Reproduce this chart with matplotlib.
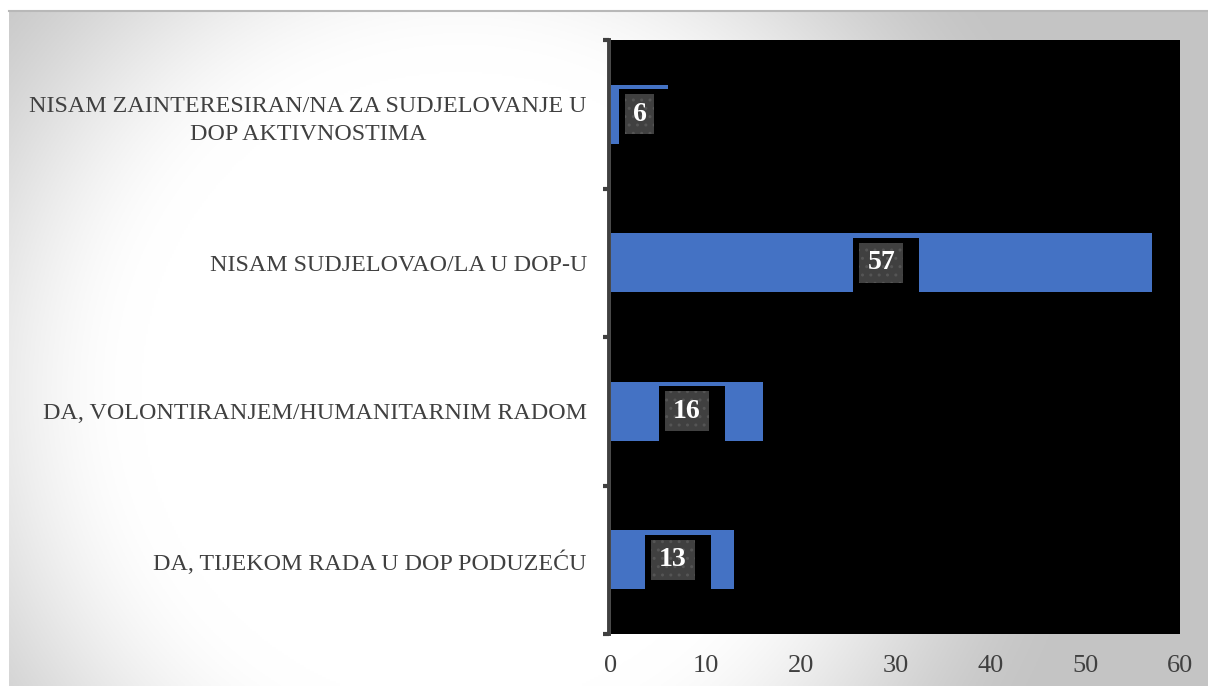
import numpy as np
import matplotlib
matplotlib.use("Agg")
import matplotlib.pyplot as plt
from matplotlib.patches import Rectangle
from matplotlib.transforms import IdentityTransform

categories = [
    "NISAM ZAINTERESIRAN/NA ZA SUDJELOVANJE U\nDOP AKTIVNOSTIMA",
    "NISAM SUDJELOVAO/LA U DOP-U",
    "DA, VOLONTIRANJEM/HUMANITARNIM RADOM",
    "DA, TIJEKOM RADA U DOP PODUZEĆU",
]
values = [6, 57, 16, 13]
xticks = [0, 10, 20, 30, 40, 50, 60]

W, H = 1208, 686
DPI = 100
plt.rcParams['font.family'] = ['Liberation Serif', 'DejaVu Serif']

fig = plt.figure(figsize=(W / DPI, H / DPI), dpi=DPI, facecolor='white')

# gradient background panel
bg = fig.add_axes([9 / W, 0, 1 - 9 / W, 1 - 11 / H])
bg.set_axis_off()
xs = np.linspace(9, W, 600)
ys = np.linspace(11, H, 340)
X, Y = np.meshgrid(xs, ys)
r = np.sqrt((X - 460) ** 2 + (Y - 390) ** 2)
t = np.clip((r - 320) / 340, 0, 1)
t = t * t * (3 - 2 * t)
g = 1.0 - 0.23 * t
img = np.dstack([g, g, g])
bg.imshow(img, aspect='auto', extent=[0, 1, 0, 1], origin='upper', zorder=0)
bg.set_xlim(0, 1)
bg.set_ylim(0, 1)
bg.plot([0, 1], [1, 1], color='#b8b8b8', lw=1.5, transform=bg.transAxes, clip_on=False)

ax = fig.add_axes([611 / W, 1 - 634 / H, (1180 - 611) / W, (634 - 40) / H])
ax.set_facecolor('black')
for s in ['top', 'right', 'bottom']:
    ax.spines[s].set_visible(False)
ax.spines['left'].set_color('#404040')
ax.spines['left'].set_linewidth(2.8)
ax.spines['left'].set_position(('outward', 1.4))
ax.spines['left'].set_zorder(5)

ypos = np.arange(len(categories))
ax.barh(ypos, values, height=0.4, color='#4472C4', zorder=2)
ax.set_ylim(len(categories) - 0.5, -0.5)
ax.set_xlim(0, 60)
ax.set_xticks(xticks)
ax.set_xticklabels([str(v) for v in xticks])
ax.set_yticks(ypos)
ax.set_yticklabels(categories, multialignment='center', linespacing=1.45)
ax.set_yticks(np.arange(len(categories) + 1) - 0.5, minor=True)
ax.tick_params(axis='y', which='major', length=0, pad=16, labelsize=17.3, labelcolor='#404040')
ax.tick_params(axis='y', which='minor', length=4.5, width=3, color='#404040', direction='out')
ax.tick_params(axis='x', length=0, pad=15, labelsize=19, labelcolor='#404040')

texts = []
for yi, v in zip(ypos, values):
    tx = ax.text(v / 2, yi, str(v), ha='center', va='center', color='white',
                 fontsize=20, fontweight='bold', zorder=7)
    texts.append(tx)

fig.canvas.draw()
renderer = fig.canvas.get_renderer()
for tx in texts:
    bb = tx.get_window_extent(renderer)
    cx = (bb.x0 + bb.x1) / 2
    cy = (bb.y0 + bb.y1) / 2
    gw = bb.width + 16
    gh = 40
    gx0 = cx - gw / 2
    gy0 = cy - gh / 2
    black = Rectangle((gx0 - 6, gy0 - 12), gw + 22, gh + 17, transform=IdentityTransform(),
                      facecolor='black', edgecolor='none', zorder=3)
    gray = Rectangle((gx0, gy0), gw, gh, transform=IdentityTransform(), facecolor='#404040',
                     edgecolor='#555555', linewidth=0, hatch='..', zorder=4)
    ax.add_artist(black)
    ax.add_artist(gray)

fig.savefig('out.png', dpi=DPI, facecolor='white')
